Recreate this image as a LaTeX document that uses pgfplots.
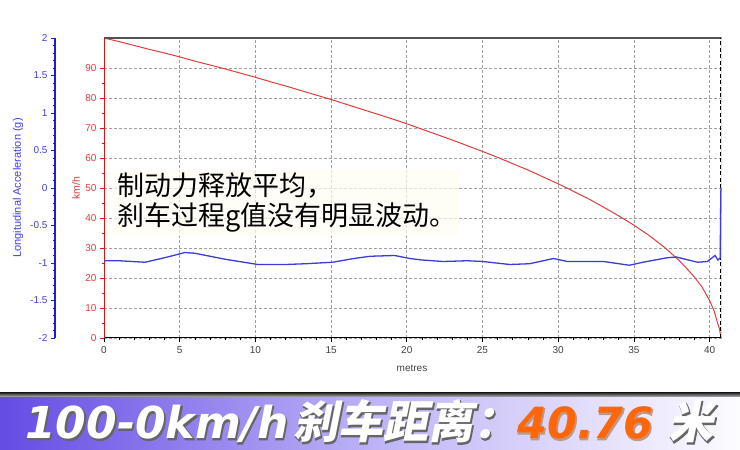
\documentclass[border=0pt]{standalone}
\usepackage{pgfplots}
\pgfplotsset{compat=1.18}
\usepackage{fontspec}
\setmainfont{Liberation Sans}
\newfontfamily\cjk{Noto Sans CJK SC}
\newfontfamily\cjkbi{Noto Sans CJK SC}[FakeSlant=0.2]
\newfontfamily\cjkbio{Noto Sans CJK SC}[FakeSlant=0.2, FakeBold=2.5]
\newfontfamily\latb{DejaVu Sans}
\newfontfamily\latbo{DejaVu Sans}[FakeBold=2.5]
\definecolor{redline}{RGB}{225,60,60}
\definecolor{redaxis}{RGB}{220,20,20}
\definecolor{blueline}{RGB}{60,60,210}
\definecolor{blueaxis}{RGB}{30,30,215}
\definecolor{bannerA}{RGB}{100,76,228}
\definecolor{bannerB}{RGB}{188,178,246}
\definecolor{bannerC}{RGB}{252,252,255}
\definecolor{orangeT}{RGB}{255,102,10}
\pgfplotstableread{
x v
0 100
1 98.8
2 97.5
3 96.2
4 95.0
5 93.7
6 92.3
7 91.0
8 89.7
9 88.3
10 86.9
11 85.4
12 84.0
13 82.5
14 81.0
15 79.5
16 77.9
17 76.3
18 74.7
19 73.1
20 71.4
21 69.6
22 67.8
23 66.0
24 64.1
25 62.2
26 60.2
27 58.1
28 56.0
29 53.7
30 51.4
31 48.9
32 46.4
33 43.6
34 40.7
35 37.6
36 34.2
37 30.3
38 25.8
38.5 23.1
39 20.3
39.5 17.0
40 12.5
40.3 9.0
40.5 5.5
40.65 3.0
40.76 0
}\speed
\pgfplotstableread{
x g
0 -0.97
1 -0.97
2.7 -0.99
4 -0.93
5.35 -0.86
6 -0.87
8 -0.95
10.17 -1.02
12 -1.02
13.3 -1.01
15.1 -0.99
16.5 -0.94
17.6 -0.91
19.2 -0.90
20.2 -0.94
21 -0.96
22.4 -0.98
24 -0.97
25 -0.98
26.8 -1.02
28.1 -1.01
29.7 -0.94
30.6 -0.98
33 -0.98
34.7 -1.03
35.6 -0.99
37.2 -0.93
37.8 -0.92
39.2 -0.99
39.85 -0.98
40.36 -0.90
40.55 -0.96
40.7 -0.93
40.74 -0.05
40.76 0.0
}\accel
\newcommand\btext[6]{% x, fill colour, outline colour, font, outline font, text
  \node[anchor=base west, inner sep=0, text=#3] at ({#1+0.9},{11-0.9}) {#5#6};
  \node[anchor=base west, inner sep=0, text=#2] at (#1,11) {#4#6};}
\begin{document}
\begin{tikzpicture}[x=1pt,y=1pt]
\path[use as bounding box] (0,0) rectangle (740,450);
% main km/h axis
\begin{axis}[
  scale only axis, width=617.7pt, height=300pt,
  at={(104pt,112pt)}, anchor=south west,
  xmin=0, xmax=40.8, ymin=0, ymax=100,
  axis line style={draw=none},
  /pgf/number format/assume math mode=true,
  xtick={0,5,...,40}, minor x tick num=4,
  ytick={0,10,...,90}, minor y tick num=1,
  xtick pos=bottom, ytick pos=left, tick align=outside,
  major tick length=4pt, minor tick length=2.5pt,
  x tick style={black, line width=0.6pt},
  y tick style={redaxis, line width=0.6pt},
  grid=major,
  major grid style={gray!75, dash pattern=on 2.5pt off 2.5pt, line width=0.6pt},
  x tick label style={font=\fontsize{10}{12}\selectfont, text=black!75, yshift=-1pt},
  y tick label style={font=\fontsize{10}{12}\selectfont, text=redline},
]
\addplot[redline, line width=1pt] table[x=x,y=v] {\speed};
\draw[gray!65!black, line width=2pt] (rel axis cs:0,1) -- (rel axis cs:1,1);
\draw[black, line width=2pt] (rel axis cs:0,0) -- (rel axis cs:1,0);
\draw[redaxis, line width=1.5pt] (rel axis cs:0,0) -- (rel axis cs:0,1);
\draw[cyan!40, line width=0.8pt] (rel axis cs:1,0) -- (rel axis cs:1,1);
\draw[black, line width=1pt, dash pattern=on 4pt off 2.5pt] (axis cs:40.74,0) -- (axis cs:40.74,100);
\end{axis}
% acceleration data axis
\begin{axis}[
  scale only axis, width=617.7pt, height=300pt,
  at={(104pt,112pt)}, anchor=south west,
  xmin=0, xmax=40.8, ymin=-2, ymax=2,
  hide axis,
]
\addplot[blueline, line width=1.3pt] table[x=x,y=g] {\accel};
\end{axis}
% acceleration scale axis
\begin{axis}[
  scale only axis, width=1pt, height=300pt,
  at={(55pt,112pt)}, anchor=south west,
  xmin=0, xmax=1, ymin=-2, ymax=2,
  hide x axis, axis y line*=left,
  axis line style={blueaxis, line width=1.5pt},
  /pgf/number format/assume math mode=true,
  ytick={-2,-1.5,...,2}, minor y tick num=4,
  tick align=outside,
  major tick length=4pt, minor tick length=2pt,
  y tick style={blueaxis, line width=0.6pt},
  y tick label style={font=\fontsize{10}{12}\selectfont, text=blueaxis!85},
  yticklabel={\pgfmathprintnumber[fixed,precision=1]{\tick}},
]
\addplot[draw=none] coordinates {(0,0)};
\end{axis}
% axis titles
\node[rotate=90, text=blueaxis!85, font=\fontsize{11}{13}\selectfont] at (18,262) {Longitudinal Acceleration (g)};
\node[rotate=90, text=redline, font=\fontsize{10.5}{12}\selectfont] at (76,262) {km/h};
\node[text=black!75, font=\fontsize{10}{12}\selectfont] at (412,82) {metres};
% annotation
\node[anchor=west, align=left, fill=yellow!5, fill opacity=0.7, text opacity=1, inner sep=3pt,
      font=\cjk\fontsize{27}{30}\selectfont] at (114,247)
  {制动力释放平均，\\刹车过程g值没有明显波动。};
% banner
\shade[left color=bannerA, right color=bannerC, middle color=bannerB] (0,0) rectangle (740,53);
\shade[top color=black!80, bottom color=gray!55] (0,53) rectangle (740,57);
\btext{25}{white}{black!60}{\latb\bfseries\itshape\fontsize{44}{50}\selectfont}{\latbo\bfseries\itshape\fontsize{44}{50}\selectfont}{100-0km/h}
\btext{293}{white}{black!60}{\cjkbi\bfseries\fontsize{45}{50}\selectfont}{\cjkbio\bfseries\fontsize{45}{50}\selectfont}{刹车距离：}
\btext{517}{orangeT}{orangeT!50!black!50}{\latb\bfseries\itshape\fontsize{43}{50}\selectfont}{\latbo\bfseries\itshape\fontsize{43}{50}\selectfont}{40.76}
\btext{668}{white}{black!60}{\cjkbi\bfseries\fontsize{45}{50}\selectfont}{\cjkbio\bfseries\fontsize{45}{50}\selectfont}{米}
\end{tikzpicture}
\end{document}
